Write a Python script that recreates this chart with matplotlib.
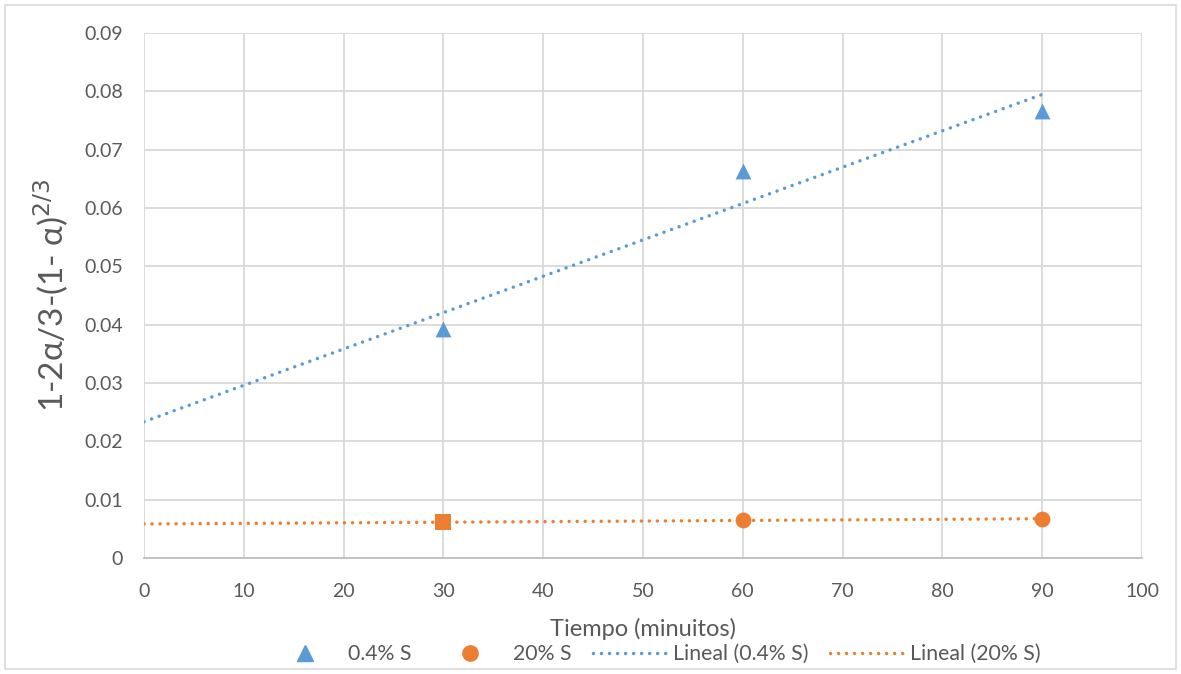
import numpy as np
import matplotlib.pyplot as plt
from matplotlib.lines import Line2D
from matplotlib.patches import Rectangle

plt.rcParams['font.family'] = ['Lato', 'DejaVu Sans']

time_min = [30, 60, 90]
s_04 = [0.0393, 0.0663, 0.0767]
s_20 = [0.0061, 0.0065, 0.0067]

x_ticks = list(range(0, 101, 10))
y_ticks = [0, 0.01, 0.02, 0.03, 0.04, 0.05, 0.06, 0.07, 0.08, 0.09]
y_tick_labels = ['0', '0.01', '0.02', '0.03', '0.04', '0.05', '0.06', '0.07', '0.08', '0.09']

blue = '#5b9bd5'
orange = '#ed7d31'
grey_text = '#595959'
grid_col = '#d9d9d9'
dotted = (0, (0.01, 2.3))

fig = plt.figure(figsize=(11.81, 6.74), dpi=100)
fig.patches.append(Rectangle((0.004, 0.007), 0.992, 0.986, transform=fig.transFigure,
                             fill=False, edgecolor='#d9d9d9', linewidth=1.2))
ax = fig.add_axes([144 / 1181, 1 - 558 / 674, (1142 - 144) / 1181, (558 - 33) / 674])

# linear trendlines (least squares), drawn from 0 to the last point
fit_x = np.linspace(0, 90, 200)
p_blue = np.polyfit(time_min, s_04, 1)
p_orange = np.polyfit(time_min, s_20, 1)
ax.plot(fit_x, np.polyval(p_blue, fit_x), color=blue, linestyle=dotted,
        linewidth=2.5, dash_capstyle='round', zorder=3)
ax.plot(fit_x, np.polyval(p_orange, fit_x), color=orange, linestyle=dotted,
        linewidth=2.5, dash_capstyle='round', zorder=3)

ax.scatter(time_min, s_04, marker='^', s=130, color=blue, zorder=4, linewidths=0)
markers_20 = ['s', 'o', 'o']
for xv, yv, m in zip(time_min, s_20, markers_20):
    ax.scatter([xv], [yv], marker=m, s=130, color=orange, zorder=4, linewidths=0)

ax.set_xlim(0, 100)
ax.set_ylim(0, 0.09)
ax.set_xticks(x_ticks)
ax.set_yticks(y_ticks)
ax.set_yticklabels(y_tick_labels)
ax.grid(True, color=grid_col, linewidth=1.3)
ax.set_axisbelow(True)
for side in ['top', 'right', 'left']:
    ax.spines[side].set_visible(False)
ax.spines['bottom'].set_color('#bfbfbf')
ax.spines['bottom'].set_linewidth(1.3)
ax.tick_params(length=0, labelsize=14, colors=grey_text)
ax.tick_params(axis='y', pad=15)
ax.tick_params(axis='x', pad=18)

ax.set_xlabel('Tiempo (minuitos)', fontsize=17, color=grey_text, labelpad=13)
ax.set_ylabel(r'1-2α/3-(1- α)$^{2/3}$', fontsize=24, color=grey_text, labelpad=10)

handles = [
    Line2D([], [], marker='^', color=blue, linestyle='none', markersize=11),
    Line2D([], [], marker='o', color=orange, linestyle='none', markersize=11),
    Line2D([], [], color=blue, linestyle=dotted, linewidth=2.5, dash_capstyle='round'),
    Line2D([], [], color=orange, linestyle=dotted, linewidth=2.5, dash_capstyle='round'),
]
labels = ['0.4% S', '20% S', 'Lineal (0.4% S)', 'Lineal (20% S)']
leg = fig.legend(handles, labels, loc='center', bbox_to_anchor=(654 / 1181, 1 - 654 / 674),
                 ncol=4, frameon=False, fontsize=15.3, handlelength=3.5, columnspacing=1.0,
                 handletextpad=0.28, borderpad=0, borderaxespad=0)
for t in leg.get_texts():
    t.set_color(grey_text)

fig.savefig('out.png', dpi=100)
